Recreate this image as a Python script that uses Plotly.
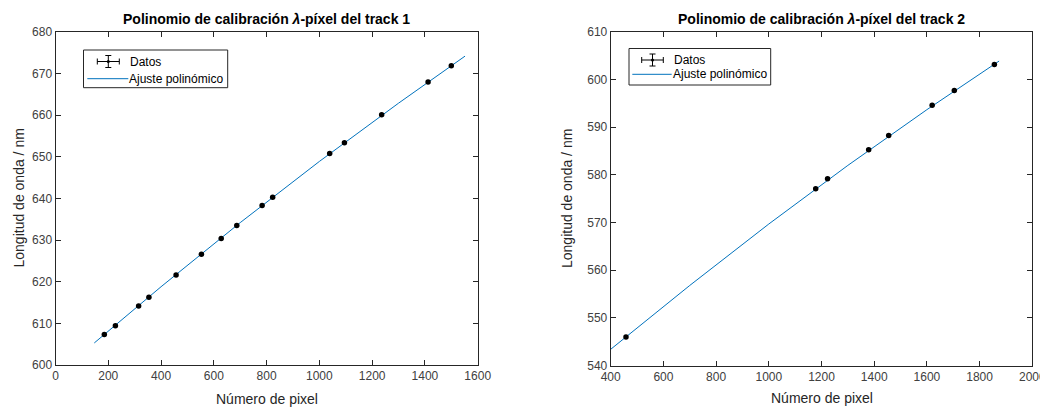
import plotly.graph_objects as go

# ---- data ----
track1_px = [185, 227, 315, 354, 457, 553, 628, 687, 783, 823, 1039, 1095, 1236, 1412, 1500]
track1_nm = [607.3, 609.4, 614.2, 616.3, 621.6, 626.6, 630.4, 633.5, 638.3, 640.3, 650.8, 653.4, 660.1, 668.0, 671.9]
fit1_px = [147, 400, 700, 1000, 1300, 1552]
fit1_nm = [605.3, 618.8, 634.2, 648.9, 662.9, 674.2]

track2_px = [458, 1178, 1223, 1379, 1455, 1620, 1704, 1856]
track2_nm = [546.0, 577.1, 579.2, 585.3, 588.3, 594.6, 597.7, 603.2]
fit2_px = [400, 700, 1000, 1300, 1600, 1874]
fit2_nm = [543.4, 556.8, 569.7, 582.0, 593.7, 603.9]

titles = ["Polinomio de calibración <i>λ</i>-píxel del track 1",
          "Polinomio de calibración <i>λ</i>-píxel del track 2"]
xlabel = "Número de pixel"
ylabel = "Longitud de onda / nm"
legend_labels = ["Datos", "Ajuste polinómico"]
x1_ticks = list(range(0, 1601, 200))
y1_ticks = list(range(600, 681, 10))
x2_ticks = list(range(400, 2001, 200))
y2_ticks = list(range(540, 611, 10))

FONT = "Liberation Sans, Arial, sans-serif"
LINE_C = "#0072BD"
AX_C = "#262626"
TICK_C = "#404040"

# the page body adds an 8px offset; the figure fills the rest of the window
OFF = 8
W, H = 1048 - OFF, 407 - OFF
def fx(p):
    return (p - OFF) / W
def fy(p):
    return 1 - (p - OFF) / H

fig = go.Figure()

def add_panel(px, nm, fpx, fnm, xa, ya):
    fig.add_trace(go.Scatter(x=fpx, y=fnm, mode="lines", xaxis=xa, yaxis=ya,
                             line=dict(color=LINE_C, width=1), showlegend=False,
                             name=legend_labels[1]))
    fig.add_trace(go.Scatter(x=px, y=nm, mode="markers", xaxis=xa, yaxis=ya,
                             marker=dict(color="black", size=5.5), showlegend=False,
                             name=legend_labels[0]))

add_panel(track1_px, track1_nm, fit1_px, fit1_nm, "x", "y")
add_panel(track2_px, track2_nm, fit2_px, fit2_nm, "x2", "y2")

axis_common = dict(showline=True, linecolor=AX_C, linewidth=1, mirror="allticks",
                   ticks="inside", ticklen=5, tickcolor=AX_C, tickwidth=1,
                   showgrid=False, zeroline=False, automargin=False,
                   tickfont=dict(family=FONT, size=12, color=TICK_C))

fig.update_layout(
    width=W, height=H,
    margin=dict(l=0, r=0, t=0, b=0, pad=0, autoexpand=False),
    paper_bgcolor="white", plot_bgcolor="white",
    font=dict(family=FONT, color=AX_C),
    showlegend=False,
    xaxis=dict(domain=[fx(55.5), fx(477.7)], range=[0, 1600], tickvals=x1_ticks,
               anchor="y", **axis_common),
    yaxis=dict(domain=[fy(365), fy(32)], range=[600, 680], tickvals=y1_ticks,
               anchor="x", **axis_common),
    xaxis2=dict(domain=[fx(610.7), fx(1032.3)], range=[400, 2000], tickvals=x2_ticks,
                anchor="y2", **axis_common),
    yaxis2=dict(domain=[fy(365.5), fy(32)], range=[540, 610], tickvals=y2_ticks,
                anchor="x2", **axis_common),
)

def ann(x, y, text, size, color="black", xanchor="center", angle=0):
    fig.add_annotation(x=fx(x), y=fy(y), xref="paper", yref="paper", text=text,
                       showarrow=False, textangle=angle,
                       font=dict(family=FONT, size=size, color=color),
                       xanchor=xanchor, yanchor="middle")

def line(x0, y0, x1, y1, color="black", width=1):
    fig.add_shape(type="line", xref="paper", yref="paper",
                  x0=fx(x0), y0=fy(y0), x1=fx(x1), y1=fy(y1),
                  line=dict(color=color, width=width))

# titles and axis labels
ann((55.5 + 477.7) / 2, 19, "<b>" + titles[0] + "</b>", 14)
ann((610.7 + 1032.3) / 2, 19, "<b>" + titles[1] + "</b>", 14)
ann((55.5 + 477.7) / 2, 399, xlabel, 14, AX_C)
ann((610.7 + 1032.3) / 2, 398, xlabel, 14, AX_C)
ann(18, 198.5, ylabel, 14, AX_C, angle=-90)
ann(566.5, 198.5, ylabel, 14, AX_C, angle=-90)

# manual legends (MATLAB style)
def legend_box(x0, y0, x1, y1, gx0, gx1, gy, gvx, tx, ly, lx0, lx1, ltx):
    fig.add_shape(type="rect", xref="paper", yref="paper",
                  x0=fx(x0), y0=fy(y1), x1=fx(x1), y1=fy(y0),
                  line=dict(color=AX_C, width=1), fillcolor="white", layer="above")
    # errorbar glyph
    line(gx0, gy, gx1, gy)
    line(gx0, gy - 3, gx0, gy + 3)
    line(gx1, gy - 3, gx1, gy + 3)
    line(gvx, gy - 6, gvx, gy + 6)
    line(gvx - 3, gy - 6, gvx + 3, gy - 6)
    line(gvx - 3, gy + 6, gvx + 3, gy + 6)
    fig.add_shape(type="circle", xref="paper", yref="paper",
                  x0=fx(gvx - 1.5), x1=fx(gvx + 1.5), y0=fy(gy + 1.5), y1=fy(gy - 1.5),
                  fillcolor="black", line=dict(color="black", width=0))
    ann(tx, gy, legend_labels[0], 12, "black", xanchor="left")
    line(lx0, ly, lx1, ly, LINE_C, 1)
    ann(ltx, ly, legend_labels[1], 12, "black", xanchor="left")

legend_box(83.5, 50, 227.7, 87.7, 97.3, 119.3, 61.5, 108.3, 127.5, 78.7, 87.3, 128.3, 127)
legend_box(629, 48.5, 770.7, 85, 641.7, 663.3, 60, 652.5, 672, 74.3, 632.3, 671.7, 670.5)

fig.write_html("out.html")
